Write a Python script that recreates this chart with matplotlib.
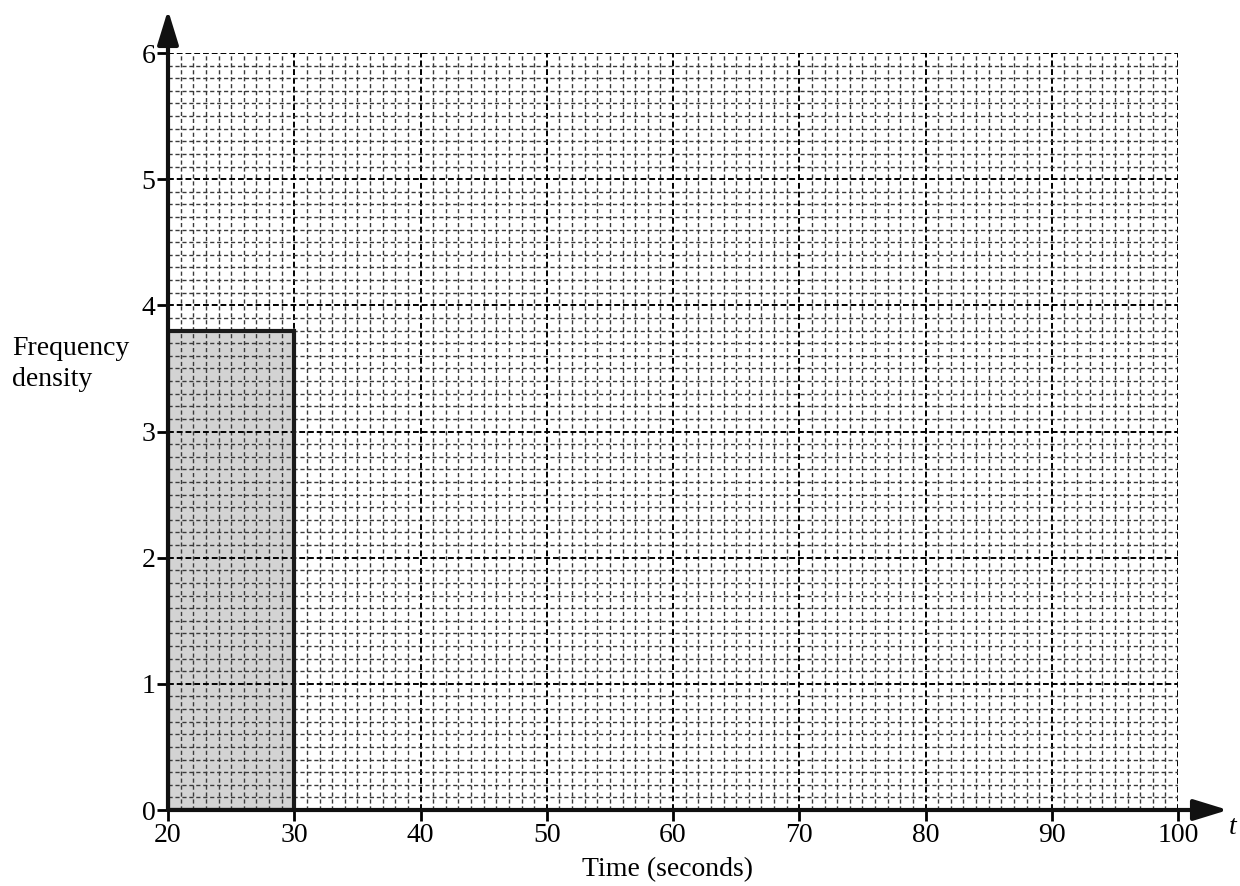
import matplotlib
matplotlib.use("Agg")
import matplotlib.pyplot as plt
import numpy as np
from matplotlib.ticker import MultipleLocator

# Data
bin_left = [20]
bin_width = [10]
freq_density = [3.8]
x_ticks = [20, 30, 40, 50, 60, 70, 80, 90, 100]
y_ticks = [0, 1, 2, 3, 4, 5, 6]

plt.rcParams['font.family'] = ['Liberation Serif', 'DejaVu Serif']

fig = plt.figure(figsize=(12.4, 8.86), dpi=100)
ax = fig.add_axes([168/1240, 1-810/886, (1178-168)/1240, (810-53)/886])
ax.set_xlim(20, 100)
ax.set_ylim(0, 6)

for s in ax.spines.values():
    s.set_visible(False)

ax.xaxis.set_major_locator(MultipleLocator(10))
ax.xaxis.set_minor_locator(MultipleLocator(1))
ax.yaxis.set_major_locator(MultipleLocator(1))
ax.yaxis.set_minor_locator(MultipleLocator(0.1))
ax.set_xticks(x_ticks)
ax.set_yticks(y_ticks)

ax.set_axisbelow(False)
ax.grid(which='minor', color='#3a3a3a', linestyle=(0, (3, 2)), linewidth=1.0)
ax.grid(which='major', color='#000000', linestyle=(0, (3, 1.5)), linewidth=1.4)

ax.tick_params(which='minor', length=0)
ax.tick_params(which='major', direction='out', length=8, width=2, labelsize=20, color='black', pad=1)

# bars: fill under grid, outline above
ax.bar(bin_left, freq_density, width=bin_width, align='edge', color='#d3d3d3', edgecolor='none', zorder=1)
ax.bar(bin_left, freq_density, width=bin_width, align='edge', fill=False, edgecolor='#1a1a1a', linewidth=3, zorder=4)

# axes with arrows
astyle = '-|>,head_length=0.65,head_width=0.2'
ax.annotate('', xy=(0, 1 + 43/757), xytext=(0, 0), xycoords='axes fraction',
            arrowprops=dict(arrowstyle=astyle, mutation_scale=32, lw=3, color='#111111', shrinkA=0, shrinkB=0),
            annotation_clip=False, zorder=5)
ax.annotate('', xy=(1 + 50/1010, 0), xytext=(0, 0), xycoords='axes fraction',
            arrowprops=dict(arrowstyle=astyle, mutation_scale=32, lw=3, color='#111111', shrinkA=0, shrinkB=0),
            annotation_clip=False, zorder=5)

fig.text(1233/1240, 1-828/886, 't', fontsize=20, style='italic', ha='center', va='center')
fig.text(668/1240, 1-870/886, 'Time (seconds)', fontsize=20, ha='center', va='center')
fig.text(12/1240, 1-364/886, 'Frequency\ndensity', fontsize=20, ha='left', va='center', linespacing=1.35)

fig.savefig('out.png', dpi=100)
